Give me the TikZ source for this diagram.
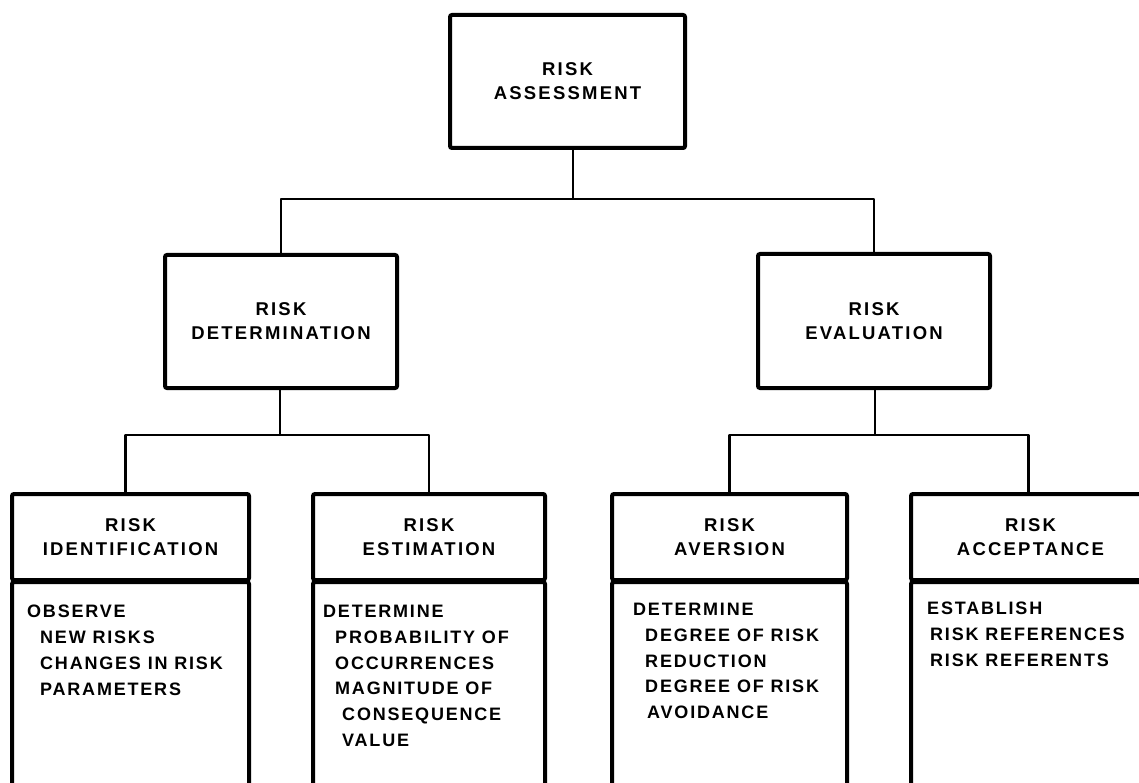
\documentclass[tikz,border=0pt]{standalone}
\usepackage{fontspec}
\newfontfamily\labfont[LetterSpace=10]{Liberation Sans}
\newfontfamily\titfont[LetterSpace=12]{Liberation Sans}
\begin{document}
\begin{tikzpicture}[x=1pt,y=-1pt,
  box/.style={draw, line width=4pt, fill=white, rounded corners=2pt, inner sep=0pt, align=center,
    font=\titfont\bfseries\fontsize{18.5}{24}\selectfont},
  conn/.style={draw, line width=2.8pt, line join=round},
  body/.style={anchor=north west, inner sep=0pt, align=left,
    font=\labfont\bfseries\fontsize{18}{25.8}\selectfont}]
\useasboundingbox (0,0) rectangle (1139,783);
\clip (0,0) rectangle (1139,783);
\fill[white] (0,0) rectangle (1139,783);

% junction points
\coordinate (j0) at (573,199);
\coordinate (j1) at (280,435);
\coordinate (j2) at (875,435);

% level 1 and 2
\node[box, minimum width=235pt, minimum height=133pt] (top) at (567.5,81.5) {RISK\\ASSESSMENT};
\node[box, minimum width=232pt, minimum height=133pt] (det) at (281,321.5) {RISK\\DETERMINATION};
\node[box, minimum width=232pt, minimum height=134pt] (eva) at (874,321) {RISK\\EVALUATION};

% level 3 titles
\node[box, minimum width=237pt, minimum height=86pt] (idt) at (130.5,537) {RISK\\IDENTIFICATION};
\node[box, minimum width=232pt, minimum height=86pt] (est) at (429,537) {RISK\\ESTIMATION};
\node[box, minimum width=235pt, minimum height=86pt] (avt) at (729.5,537) {RISK\\AVERSION};
\node[box, minimum width=239pt, minimum height=86pt] (act) at (1030.5,537) {RISK\\ACCEPTANCE};

% level 3 bodies
\node[box, minimum width=237pt, minimum height=230pt] (idb) at (130.5,697) {};
\node[box, minimum width=232pt, minimum height=230pt] (esb) at (429,697) {};
\node[box, minimum width=235pt, minimum height=230pt] (avb) at (729.5,697) {};
\node[box, minimum width=239pt, minimum height=230pt] (acb) at (1030.5,697) {};

\node[body] (idx) at (27,605) {OBSERVE\\\hspace*{13pt}NEW RISKS\\\hspace*{13pt}CHANGES IN RISK\\\hspace*{13pt}PARAMETERS};
\node[body] (esx) at (323,605) {DETERMINE\\\hspace*{12pt}PROBABILITY OF\\\hspace*{12pt}OCCURRENCES\\\hspace*{12pt}MAGNITUDE OF\\\hspace*{19pt}CONSEQUENCE\\\hspace*{19pt}VALUE};
\node[body] (avx) at (633,603) {DETERMINE\\\hspace*{12pt}DEGREE OF RISK\\\hspace*{12pt}REDUCTION\\\hspace*{12pt}DEGREE OF RISK\\\hspace*{14pt}AVOIDANCE};
\node[body] (acx) at (927,602) {ESTABLISH\\\hspace*{3pt}RISK REFERENCES\\\hspace*{3pt}RISK REFERENTS};

% connectors
\draw[conn] (top.south -| j0) -- (j0);
\draw[conn] (det.north) |- (j0) -| (eva.north);
\draw[conn] (det.south -| j1) -- (j1);
\draw[conn] ([xshift=-5pt]idt.north) |- (j1) -| (est.north);
\draw[conn] (eva.south -| j2) -- (j2);
\draw[conn] (avt.north) |- (j2) -| ([xshift=-2pt]act.north);
\end{tikzpicture}
\end{document}
